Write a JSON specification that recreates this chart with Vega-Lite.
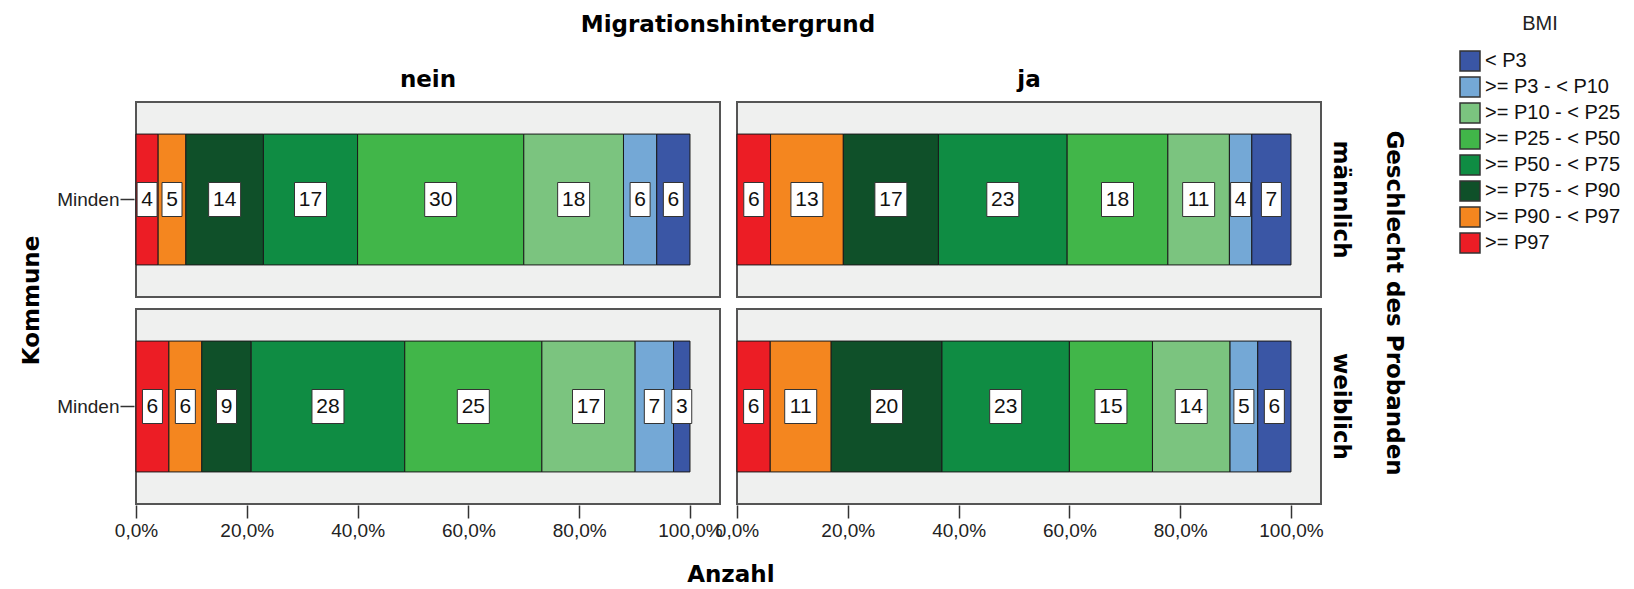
{
  "$schema": "https://vega.github.io/schema/vega-lite/v6.json",
  "padding": {"left": 20, "top": 14, "right": 5, "bottom": 2},
  "background": "white",
  "title": {
    "text": "Kommune", "orient": "left", "anchor": "middle", "frame": "bounds",
    "font": "DejaVu Sans", "fontSize": 23, "fontWeight": "bold", "color": "#000", "offset": 13
  },
  "vconcat": [
    {
      "data": {"values": [
        {"Migrationshintergrund": "nein", "Geschlecht": "männlich", "Kommune": "Minden", "BMI": ">= P97", "Code": 8, "Anzahl": 4},
        {"Migrationshintergrund": "nein", "Geschlecht": "männlich", "Kommune": "Minden", "BMI": ">= P90 - < P97", "Code": 7, "Anzahl": 5},
        {"Migrationshintergrund": "nein", "Geschlecht": "männlich", "Kommune": "Minden", "BMI": ">= P75 - < P90", "Code": 6, "Anzahl": 14},
        {"Migrationshintergrund": "nein", "Geschlecht": "männlich", "Kommune": "Minden", "BMI": ">= P50 - < P75", "Code": 5, "Anzahl": 17},
        {"Migrationshintergrund": "nein", "Geschlecht": "männlich", "Kommune": "Minden", "BMI": ">= P25 - < P50", "Code": 4, "Anzahl": 30},
        {"Migrationshintergrund": "nein", "Geschlecht": "männlich", "Kommune": "Minden", "BMI": ">= P10 - < P25", "Code": 3, "Anzahl": 18},
        {"Migrationshintergrund": "nein", "Geschlecht": "männlich", "Kommune": "Minden", "BMI": ">= P3 - < P10", "Code": 2, "Anzahl": 6},
        {"Migrationshintergrund": "nein", "Geschlecht": "männlich", "Kommune": "Minden", "BMI": "< P3", "Code": 1, "Anzahl": 6},
        {"Migrationshintergrund": "ja", "Geschlecht": "männlich", "Kommune": "Minden", "BMI": ">= P97", "Code": 8, "Anzahl": 6},
        {"Migrationshintergrund": "ja", "Geschlecht": "männlich", "Kommune": "Minden", "BMI": ">= P90 - < P97", "Code": 7, "Anzahl": 13},
        {"Migrationshintergrund": "ja", "Geschlecht": "männlich", "Kommune": "Minden", "BMI": ">= P75 - < P90", "Code": 6, "Anzahl": 17},
        {"Migrationshintergrund": "ja", "Geschlecht": "männlich", "Kommune": "Minden", "BMI": ">= P50 - < P75", "Code": 5, "Anzahl": 23},
        {"Migrationshintergrund": "ja", "Geschlecht": "männlich", "Kommune": "Minden", "BMI": ">= P25 - < P50", "Code": 4, "Anzahl": 18},
        {"Migrationshintergrund": "ja", "Geschlecht": "männlich", "Kommune": "Minden", "BMI": ">= P10 - < P25", "Code": 3, "Anzahl": 11},
        {"Migrationshintergrund": "ja", "Geschlecht": "männlich", "Kommune": "Minden", "BMI": ">= P3 - < P10", "Code": 2, "Anzahl": 4},
        {"Migrationshintergrund": "ja", "Geschlecht": "männlich", "Kommune": "Minden", "BMI": "< P3", "Code": 1, "Anzahl": 7},
        {"Migrationshintergrund": "nein", "Geschlecht": "weiblich", "Kommune": "Minden", "BMI": ">= P97", "Code": 8, "Anzahl": 6},
        {"Migrationshintergrund": "nein", "Geschlecht": "weiblich", "Kommune": "Minden", "BMI": ">= P90 - < P97", "Code": 7, "Anzahl": 6},
        {"Migrationshintergrund": "nein", "Geschlecht": "weiblich", "Kommune": "Minden", "BMI": ">= P75 - < P90", "Code": 6, "Anzahl": 9},
        {"Migrationshintergrund": "nein", "Geschlecht": "weiblich", "Kommune": "Minden", "BMI": ">= P50 - < P75", "Code": 5, "Anzahl": 28},
        {"Migrationshintergrund": "nein", "Geschlecht": "weiblich", "Kommune": "Minden", "BMI": ">= P25 - < P50", "Code": 4, "Anzahl": 25},
        {"Migrationshintergrund": "nein", "Geschlecht": "weiblich", "Kommune": "Minden", "BMI": ">= P10 - < P25", "Code": 3, "Anzahl": 17},
        {"Migrationshintergrund": "nein", "Geschlecht": "weiblich", "Kommune": "Minden", "BMI": ">= P3 - < P10", "Code": 2, "Anzahl": 7},
        {"Migrationshintergrund": "nein", "Geschlecht": "weiblich", "Kommune": "Minden", "BMI": "< P3", "Code": 1, "Anzahl": 3},
        {"Migrationshintergrund": "ja", "Geschlecht": "weiblich", "Kommune": "Minden", "BMI": ">= P97", "Code": 8, "Anzahl": 6},
        {"Migrationshintergrund": "ja", "Geschlecht": "weiblich", "Kommune": "Minden", "BMI": ">= P90 - < P97", "Code": 7, "Anzahl": 11},
        {"Migrationshintergrund": "ja", "Geschlecht": "weiblich", "Kommune": "Minden", "BMI": ">= P75 - < P90", "Code": 6, "Anzahl": 20},
        {"Migrationshintergrund": "ja", "Geschlecht": "weiblich", "Kommune": "Minden", "BMI": ">= P50 - < P75", "Code": 5, "Anzahl": 23},
        {"Migrationshintergrund": "ja", "Geschlecht": "weiblich", "Kommune": "Minden", "BMI": ">= P25 - < P50", "Code": 4, "Anzahl": 15},
        {"Migrationshintergrund": "ja", "Geschlecht": "weiblich", "Kommune": "Minden", "BMI": ">= P10 - < P25", "Code": 3, "Anzahl": 14},
        {"Migrationshintergrund": "ja", "Geschlecht": "weiblich", "Kommune": "Minden", "BMI": ">= P3 - < P10", "Code": 2, "Anzahl": 5},
        {"Migrationshintergrund": "ja", "Geschlecht": "weiblich", "Kommune": "Minden", "BMI": "< P3", "Code": 1, "Anzahl": 6}
      ]},
      "title": {
        "text": "Anzahl", "orient": "bottom", "anchor": "middle", "frame": "bounds",
        "font": "DejaVu Sans", "fontSize": 23, "fontWeight": "bold", "color": "#000", "offset": 24
      },
      "facet": {
        "column": {
          "field": "Migrationshintergrund", "type": "nominal", "sort": ["nein", "ja"],
          "title": "Migrationshintergrund",
          "header": {
            "titleFont": "DejaVu Sans", "titleFontSize": 23, "titleFontWeight": "bold", "titleColor": "#000",
            "titlePadding": 22,
            "labelFont": "DejaVu Sans", "labelFontSize": 23, "labelFontWeight": "bold", "labelColor": "#000",
            "labelPadding": 9
          }
        },
        "row": {
          "field": "Geschlecht", "type": "nominal", "sort": ["männlich", "weiblich"],
          "title": "Geschlecht des Probanden",
          "header": {
            "labelOrient": "right", "titleOrient": "right",
            "labelAngle": 90, "titleAngle": 90,
            "titleFont": "DejaVu Sans", "titleFontSize": 23, "titleFontWeight": "bold", "titleColor": "#000",
            "titlePadding": 20,
            "labelFont": "DejaVu Sans", "labelFontSize": 23, "labelFontWeight": "bold", "labelColor": "#000",
            "labelPadding": 7
          }
        }
      },
      "spacing": {"row": 10, "column": 14},
      "spec": {
        "width": 584,
        "height": 195,
        "transform": [
          {"stack": "Anzahl", "groupby": ["Migrationshintergrund", "Geschlecht", "Kommune"], "sort": [{"field": "Code", "order": "descending"}], "offset": "normalize", "as": ["x0", "x1"]},
          {"calculate": "(datum.x0 + datum.x1) / 2", "as": "xm"}
        ],
        "encoding": {
          "y": {
            "field": "Kommune", "type": "nominal",
            "scale": {"paddingInner": 0, "paddingOuter": 0.245},
            "axis": {
              "title": null,
              "labelFont": "Liberation Sans", "labelFontSize": 19, "labelColor": "#222",
              "tickSize": 14, "tickColor": "#333", "tickWidth": 1.5, "labelPadding": 1, "domain": false
            }
          }
        },
        "layer": [
          {
            "mark": {"type": "bar", "stroke": "#1a1a1a", "strokeWidth": 1},
            "encoding": {
              "x": {
                "field": "x0", "type": "quantitative",
                "scale": {"domain": [0, 1.0542], "nice": false, "zero": true},
                "axis": {
                  "title": null,
                  "values": [0, 0.2, 0.4, 0.6, 0.8, 1],
                  "labelExpr": "replace(format(datum.value, '.1%'), '.', ',')",
                  "labelFont": "Liberation Sans", "labelFontSize": 19, "labelColor": "#222",
                  "labelOverlap": false, "labelBound": false, "labelFlush": false,
                  "tickSize": 13, "tickColor": "#333", "tickWidth": 1.5, "labelPadding": 3,
                  "grid": false, "domain": false
                }
              },
              "x2": {"field": "x1"},
              "color": {
                "field": "BMI", "type": "nominal",
                "scale": {
                  "domain": ["< P3", ">= P3 - < P10", ">= P10 - < P25", ">= P25 - < P50", ">= P50 - < P75", ">= P75 - < P90", ">= P90 - < P97", ">= P97"],
                  "range": ["#3a56a5", "#74a8d6", "#7bc47f", "#41b649", "#0f8c43", "#0f5029", "#f4861f", "#ec1d25"]
                },
                "legend": {
                  "title": "BMI", "titleFont": "Liberation Sans", "titleFontSize": 20, "titleFontWeight": "normal", "titleColor": "#222",
                  "titleAnchor": "middle", "titlePadding": 16,
                  "labelFont": "Liberation Sans", "labelFontSize": 20, "labelColor": "#111", "labelOffset": 4,
                  "symbolType": "square", "symbolSize": 400, "symbolStrokeColor": "#333", "symbolStrokeWidth": 1.5,
                  "rowPadding": 0, "orient": "none", "legendX": 1323, "legendY": -88
                }
              }
            }
          },
          {
            "mark": {"type": "point", "filled": true, "fill": "white", "stroke": "#333", "strokeWidth": 1, "opacity": 1, "size": 1156},
            "encoding": {
              "x": {"field": "xm", "type": "quantitative"},
              "shape": {
                "condition": {"test": "datum.Anzahl >= 10", "value": "M-0.941,-1H0.941V1H-0.941Z"},
                "value": "M-0.588,-1H0.588V1H-0.588Z"
              }
            }
          },
          {
            "mark": {"type": "text", "font": "Liberation Sans", "fontSize": 21, "color": "#111", "align": "center", "baseline": "middle"},
            "encoding": {
              "x": {"field": "xm", "type": "quantitative"},
              "text": {"field": "Anzahl", "type": "quantitative"}
            }
          }
        ]
      }
    }
  ],
  "config": {
    "view": {"fill": "#eff0ef", "stroke": "#555", "strokeWidth": 2}
  }
}
